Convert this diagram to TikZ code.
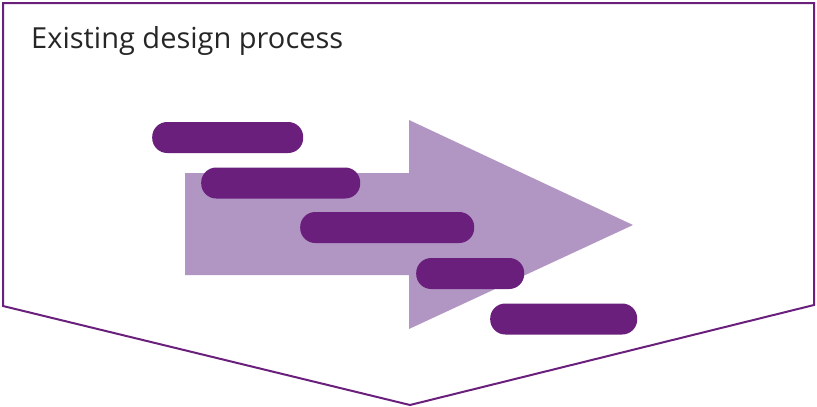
\documentclass[tikz,border=0pt]{standalone}
\usepackage{fontspec}
\setmainfont{Open Sans}
\definecolor{darkpurple}{RGB}{106,31,125}
\definecolor{lightpurple}{RGB}{177,149,195}
\begin{document}
\begin{tikzpicture}[x=1pt,y=-1pt,
  outline/.style={draw=darkpurple,line width=2pt,line join=miter},
  bigarrow/.style={fill=lightpurple},
  bar/.style={fill=darkpurple,rounded corners=15pt,inner sep=0pt,minimum height=31pt,anchor=west}]
\useasboundingbox (0,0) rectangle (817,407);
% outline
\draw[outline] (3,306) -- (3,3) -- (814,3) -- (814,305) -- (410,405) -- cycle;
% big arrow
\fill[bigarrow] (185,173) -- (409,173) -- (409,120) -- (633,225) -- (409,329) -- (409,275) -- (185,275) -- cycle;
% bars
\node[bar,minimum width=151pt] (b1) at (152,137.5) {};
\node[bar,minimum width=159pt] (b2) at (201,183) {};
\node[bar,minimum width=174pt] (b3) at (300,227.5) {};
\node[bar,minimum width=108pt] (b4) at (416,273.5) {};
\node[bar,minimum width=147pt] (b5) at (490,319) {};
% title
\node[anchor=base west,inner sep=0pt,font=\fontsize{29}{34}\selectfont,text=black!85] (title) at (31,48) {Existing design process};
\end{tikzpicture}
\end{document}
